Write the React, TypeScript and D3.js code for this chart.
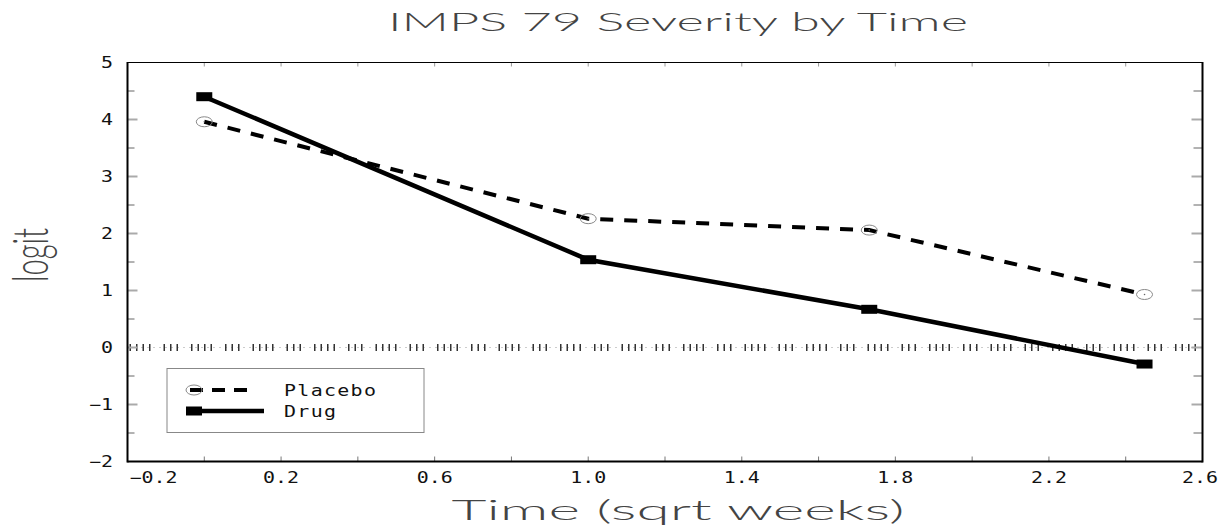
import React from 'react';
import * as d3 from 'd3';

// ---- data ----
const times: number[] = [0, 1.0, 1.732, 2.449];
const placebo: number[] = [3.96, 2.26, 2.06, 0.93];
const drug: number[] = [4.4, 1.54, 0.67, -0.29];
const seriesNames: string[] = ['Placebo', 'Drug'];
const xTickValues: number[] = [-0.2, 0.2, 0.6, 1.0, 1.4, 1.8, 2.2, 2.6];
const xMinorTicks: number[] = [0, 0.2, 0.4, 0.6, 0.8, 1.0, 1.2, 1.4, 1.6, 1.8, 2.0, 2.2, 2.4];
const yTickValues: number[] = [-2, -1, 0, 1, 2, 3, 4, 5];
const yMinorTicks: number[] = [-1.5, -0.5, 0.5, 1.5, 2.5, 3.5, 4.5];
const titleText = 'IMPS 79 Severity by Time';
const xLabel = 'Time (sqrt weeks)';
const yLabel = 'logit';

const W = 1218;
const H = 527;
const L = 127.5, R = 1202.5, T = 62.5, B = 461.5;

const x = d3.scaleLinear().domain([-0.2, 2.6]).range([L, R]);
const y = d3.scaleLinear().domain([-2, 5]).range([B, T]);

const fmt = (v: number, dec: number) => d3.format(`.${dec}f`)(v).replace('-', '\u2212');

const MONO = '"DejaVu Sans Mono", monospace';
const THIN = 'Lato, "DejaVu Sans", sans-serif';
const SX = 1.33;

function ScaledText(props: { x: number; y: number; anchor: 'start' | 'middle' | 'end'; text: string; size?: number; sx?: number; fill?: string; ls?: number }) {
  const { x: tx, y: ty, anchor, text, size = 15, sx = SX, fill = '#111', ls = 0 } = props;
  return (
    <g transform={`translate(${tx},${ty}) scale(${sx},1)`}>
      <text x={0} y={0} textAnchor={anchor} fontFamily={MONO} fontSize={size} fill={fill} letterSpacing={ls}>
        {text}
      </text>
    </g>
  );
}

export default function App() {
  const line = d3
    .line<number>()
    .x((_, i) => x(times[i]))
    .y((d) => y(d));

  const placeboPath = line(placebo) || '';
  const drugPath = line(drug) || '';

  return (
    <svg width={W} height={H} style={{ position: 'absolute', left: 0, top: 0, background: '#fff' }}>
      <rect x={0} y={0} width={W} height={H} fill="#fff" />

      {/* title */}
      <text x={678} y={31} textAnchor="middle" fontFamily={THIN} fontWeight={300} fontSize={25} fill="#444"
        textLength={580} lengthAdjust="spacingAndGlyphs">
        {titleText}
      </text>

      {/* zero reference line: dotted + rug-like bars */}
      <line x1={L + 2} x2={R - 2} y1={y(0)} y2={y(0)} stroke="#999" strokeWidth={1.2} strokeDasharray="1,5" />
      <line x1={L + 2} x2={R - 2} y1={y(0)} y2={y(0)} stroke="#333" strokeWidth={7}
        strokeDasharray="1.5,5,1.5,5,1.5,5,1.5,13,1.5,5,1.5,5,1.5,13" />

      {/* ticks */}
      {yTickValues.filter((v) => v !== -2 && v !== 5).map((v) => (
        <g key={`yt${v}`}>
          <line x1={L} x2={L + 10} y1={y(v)} y2={y(v)} stroke="#aaa" strokeWidth={2} />
          <line x1={R - 11} x2={R} y1={y(v)} y2={y(v)} stroke="#aaa" strokeWidth={2} />
        </g>
      ))}
      {yMinorTicks.map((v) => (
        <g key={`ym${v}`}>
          <line x1={L} x2={L + 7} y1={y(v)} y2={y(v)} stroke="#666" strokeWidth={1} />
          <line x1={R - 9} x2={R} y1={y(v)} y2={y(v)} stroke="#666" strokeWidth={1} />
        </g>
      ))}
      {xMinorTicks.map((v) => (
        <g key={`xm${v}`}>
          <line x1={x(v)} x2={x(v)} y1={B} y2={B - 5} stroke="#777" strokeWidth={1} />
          <line x1={x(v)} x2={x(v)} y1={T} y2={T + 4} stroke="#999" strokeWidth={1} />
        </g>
      ))}

      {/* frame */}
      <line x1={L} x2={R} y1={T} y2={T} stroke="#000" strokeWidth={1} />
      <line x1={L} x2={L} y1={T - 0.5} y2={B + 1} stroke="#000" strokeWidth={2} />
      <line x1={R} x2={R} y1={T - 0.5} y2={B + 1} stroke="#000" strokeWidth={2} />
      <line x1={L} x2={R} y1={B} y2={B} stroke="#000" strokeWidth={2} />

      {/* tick labels */}
      {xTickValues.map((v, i) => {
        const first = i === 0;
        const last = i === xTickValues.length - 1;
        const px = first ? L + 2 : last ? W : x(v);
        return (
          <ScaledText key={`xl${v}`} x={px} y={483} anchor={first ? 'start' : last ? 'end' : 'middle'} text={fmt(v, 1)} />
        );
      })}
      {yTickValues.map((v) => (
        <ScaledText key={`yl${v}`} x={113} y={y(v) + 5.5} anchor="end" text={fmt(v, 0)} />
      ))}

      {/* axis labels */}
      <text x={678} y={520} textAnchor="middle" fontFamily={THIN} fontWeight={300} fontSize={28} fill="#444"
        textLength={453} lengthAdjust="spacingAndGlyphs">
        {xLabel}
      </text>
      <g transform={`translate(48,255) rotate(-90)`}>
        <text x={0} y={0} textAnchor="middle" fontFamily={THIN} fontWeight={300} fontSize={50} fill="#444"
          textLength={54} lengthAdjust="spacingAndGlyphs">
          {yLabel}
        </text>
      </g>

      {/* series lines */}
      <path d={placeboPath} fill="none" stroke="#000" strokeWidth={4} strokeDasharray="13,11" />
      <path d={drugPath} fill="none" stroke="#000" strokeWidth={4.5} />

      {/* markers */}
      {placebo.map((v, i) => (
        <g key={`pm${i}`}>
          <ellipse cx={x(times[i])} cy={y(v)} rx={8} ry={5} fill="none" stroke="#888" strokeWidth={1} />
          <circle cx={x(times[i])} cy={y(v)} r={0.8} fill="#666" />
        </g>
      ))}
      {drug.map((v, i) => (
        <rect key={`dm${i}`} x={x(times[i]) - 8} y={y(v) - 4.5} width={16} height={9} fill="#000" />
      ))}

      {/* legend */}
      <rect x={167} y={368.5} width={257} height={64} fill="none" stroke="#888" strokeWidth={1} />
      <line x1={190} x2={248} y1={390} y2={390} stroke="#000" strokeWidth={4} strokeDasharray="13,9" />
      <ellipse cx={194} cy={390} rx={8} ry={5} fill="none" stroke="#888" strokeWidth={1} />
      <line x1={194} x2={264} y1={411} y2={411} stroke="#000" strokeWidth={4.5} />
      <rect x={186} y={406.5} width={16} height={9} fill="#000" />
      <ScaledText x={284} y={395.5} anchor="start" text={seriesNames[0]} ls={1} />
      <ScaledText x={284} y={417} anchor="start" text={seriesNames[1]} ls={1} />
    </svg>
  );
}
